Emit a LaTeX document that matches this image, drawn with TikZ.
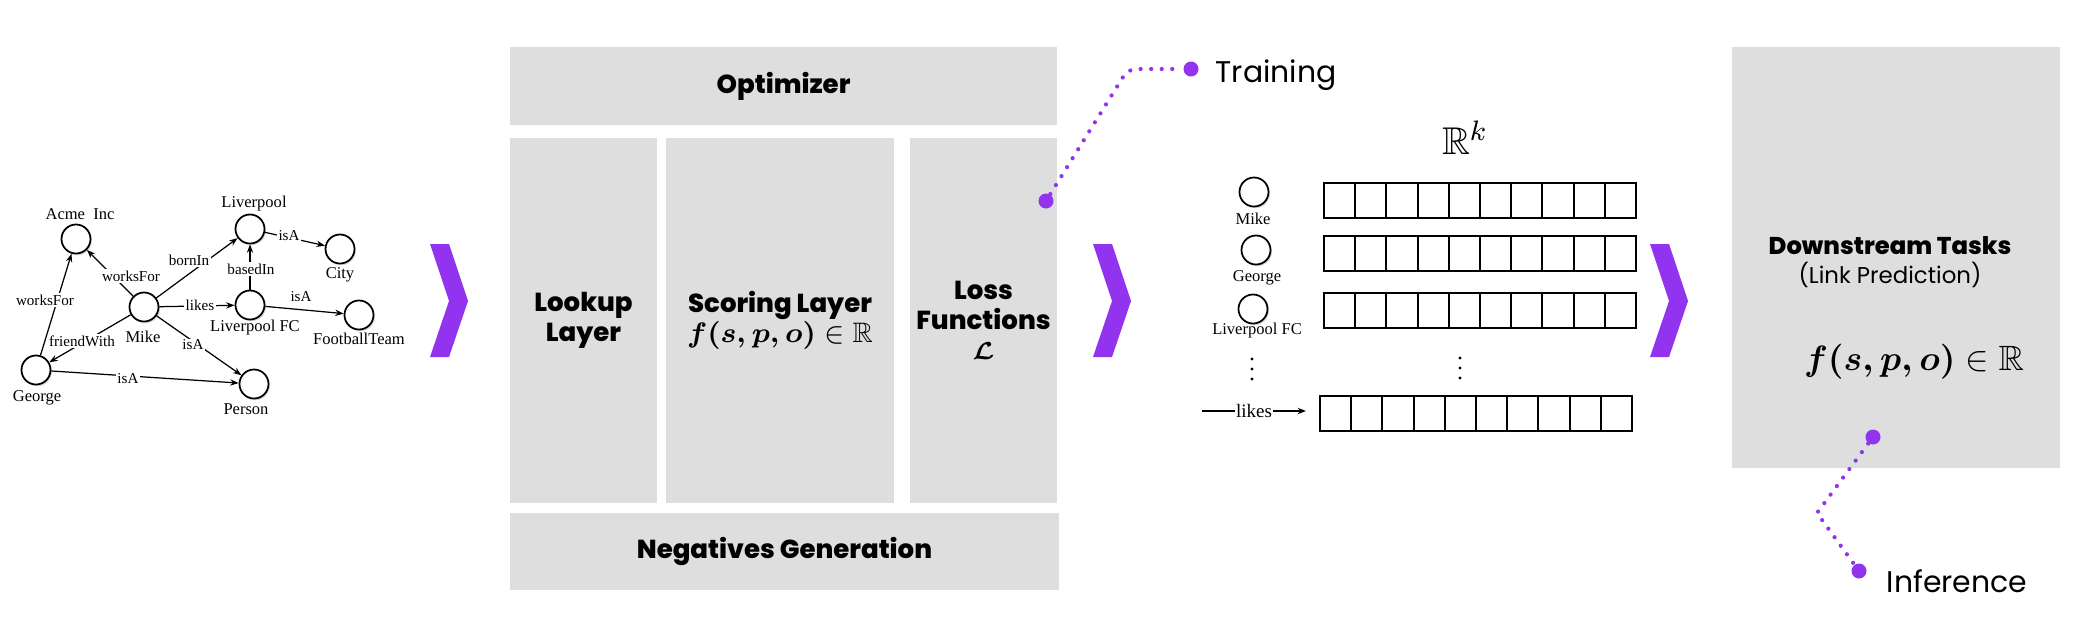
\documentclass[tikz,border=0pt]{standalone}
\usepackage{fontspec}
\usepackage{amsmath}
\usepackage{amssymb}
\setmainfont{Liberation Serif}
\newfontfamily\popfont{Poppins}[BoldFont={Poppins ExtraBold}]
\usetikzlibrary{calc}
\usetikzlibrary{arrows.meta}
\usetikzlibrary{shadows}

\definecolor{ampurple}{HTML}{9234EF}
\definecolor{panelgray}{HTML}{DEDEDE}

\tikzset{
  panel/.style={fill=panelgray, inner sep=0pt, align=center,
    font=\popfont\bfseries\fontsize{7.4}{8.6}\selectfont},
  ent/.style={circle, draw, fill=white, line width=0.5pt, minimum size=0.29cm, inner sep=0pt,
    drop shadow={shadow xshift=0.4pt, shadow yshift=-0.5pt, opacity=0.3}},
  entname/.style={font=\fontsize{4.7}{5.5}\selectfont, inner sep=0.5pt},
  rel/.style={line width=0.35pt, ->, >={Stealth[length=2.4pt,width=1.8pt]}},
  rellbl/.style={font=\fontsize{4.3}{5}\selectfont, fill=white, inner sep=0.4pt},
  chevron/.style={fill=ampurple},
  cell/.style={line width=0.6pt},
  dotline/.style={ampurple, line width=1.2pt, line cap=round, dash pattern=on 0pt off 3pt},
  dotend/.style={circle, fill=ampurple, minimum size=0.15cm, inner sep=0pt},
  tag/.style={font=\popfont\fontsize{8.5}{10}\selectfont, inner sep=0pt},
}

\begin{document}
\begin{tikzpicture}[x=0.01cm, y=-0.01cm]
\useasboundingbox (0,0) rectangle (2082,630);

% knowledge graph
\node[ent] (acme) at (76,239) {};
\node[ent] (lpool) at (250,229) {};
\node[ent] (city) at (340,249) {};
\node[ent] (mike) at (144,307) {};
\node[ent] (lfc) at (250,305) {};
\node[ent] (team) at (359,315) {};
\node[ent] (george) at (36,370) {};
\node[ent] (person) at (254,384) {};

\node[entname] (acmename) at (80,214) {Acme\ \ Inc};
\node[entname] (lpoolname) at (254,204) {Liverpool};
\node[entname] (cityname) at (340,275) {City};
\node[entname] (mikename) at (143,337) {Mike};
\node[entname] (lfcname) at (255,328) {Liverpool FC};
\node[entname] (teamname) at (359,339) {FootballTeam};
\node[entname] (georgename) at (37,398) {George};
\node[entname] (personname) at (246,409) {Person};

\draw[rel] (george) -- (acme);
\draw[rel] (mike) -- (acme);
\draw[rel] (mike) -- (lpool);
\draw[rel] (lfc) -- (lpool);
\draw[rel] (lpool) -- (city);
\draw[rel] (mike) -- (lfc);
\draw[rel] (lfc) -- (team);
\draw[rel] (mike) -- (george);
\draw[rel] (mike) -- (person);
\draw[rel] (george) -- (person);

\node[rellbl] (l1) at (45,300) {worksFor};
\node[rellbl] (l2) at (131,276) {worksFor};
\node[rellbl] (l3) at (189,260) {bornIn};
\node[rellbl] (l4) at (251,269) {basedIn};
\node[rellbl] (l5) at (289,236) {isA};
\node[rellbl] (l6) at (200,305) {likes};
\node[rellbl] (l7) at (301,297) {isA};
\node[rellbl] (l8) at (82,341) {friendWith};
\node[rellbl] (l9) at (193,345) {isA};
\node[rellbl] (l10) at (128,379) {isA};

% chevrons
\foreach \cx in {430,1093,1650}
  \fill[chevron] (\cx,244) -- ++(19,0) -- ++(19,57) -- ++(-19,56) -- ++(-19,0) -- ++(19,-56) -- cycle;

% library blocks
\node[panel, minimum width=5.47cm, minimum height=0.78cm] (optim) at (783.5,86) {Optimizer};
\node[panel, minimum width=1.47cm, minimum height=3.65cm] (lookup) at (583.5,320.5) {Lookup\\Layer};
\node[panel, minimum width=2.28cm, minimum height=3.65cm] (scoring) at (780,320.5)
  {Scoring Layer\\{\fontsize{8}{9}\selectfont$\boldsymbol{f(s,p,o)}\in\mathbb{R}$}};
\node[panel, minimum width=1.47cm, minimum height=3.65cm] (loss) at (983.5,320.5)
  {Loss\\Functions\\$\boldsymbol{\mathcal{L}}$};
\node[panel, minimum width=5.49cm, minimum height=0.77cm] (negs) at (784.5,551.5) {Negatives Generation};

% embeddings
\node[font=\fontsize{11}{13}\selectfont, anchor=base, inner sep=0pt] (rspace) at (1465,154) {$\mathbb{R}^k$};
\node[ent] (emike) at (1254,192) {};
\node[ent] (egeorge) at (1256,250) {};
\node[ent] (elfc) at (1253,309) {};
\node[entname] (emikename) at (1253,219) {Mike};
\node[entname] (egeorgename) at (1257,278) {George};
\node[entname] (elfcname) at (1257,331) {Liverpool FC};
\foreach \ry in {183,236,293}
  \foreach \i in {0,...,9}
    \draw[cell] (1324+\i*31.2,\ry) rectangle ++(31.2,35);
\foreach \i in {0,...,9}
  \draw[cell] (1320+\i*31.2,396) rectangle ++(31.2,35);
\foreach \dy in {0,10,20} {
  \fill (1252,359+\dy) circle (1.6);
  \fill (1460,358+\dy) circle (1.6);
}
\coordinate (likesfrom) at (1202,411);
\coordinate (likesto) at (1306,411);
\draw[rel, line width=0.45pt] (likesfrom) -- node[rellbl, font=\fontsize{5.4}{6}\selectfont] (likeslbl) {likes} (likesto);

% downstream
\node[panel, minimum width=3.28cm, minimum height=4.21cm] (down) at (1896,257.5) {};
\node[font=\popfont\bfseries\fontsize{6.9}{8}\selectfont] (downtitle) at (1890,246) {Downstream Tasks};
\node[font=\popfont\fontsize{6.5}{8}\selectfont] (downsub) at (1890,275) {(Link Prediction)};
\node[font=\fontsize{10}{12}\selectfont] (downscore) at (1914,362) {$\boldsymbol{f(s,p,o)}\in\mathbb{R}$};

% training / inference markers
\node[dotend] (lossdot) at (1046,201) {};
\node[dotend] (traindot) at (1191,69) {};
\coordinate (trainbend) at (1128,69);
\draw[dotline, rounded corners=0.08cm] (lossdot) -- (trainbend) -- (traindot);
\node[tag, anchor=base west] (trainlbl) at (1215,82) {Training};

\node[dotend] (inferdot) at (1873,437) {};
\node[dotend] (inferend) at (1859,571) {};
\coordinate (inferbend) at (1817,513);
\draw[dotline] (inferdot) -- (inferbend) -- (inferend);
\node[tag, anchor=base west] (inferlbl) at (1886,592) {Inference};
\end{tikzpicture}
\end{document}
